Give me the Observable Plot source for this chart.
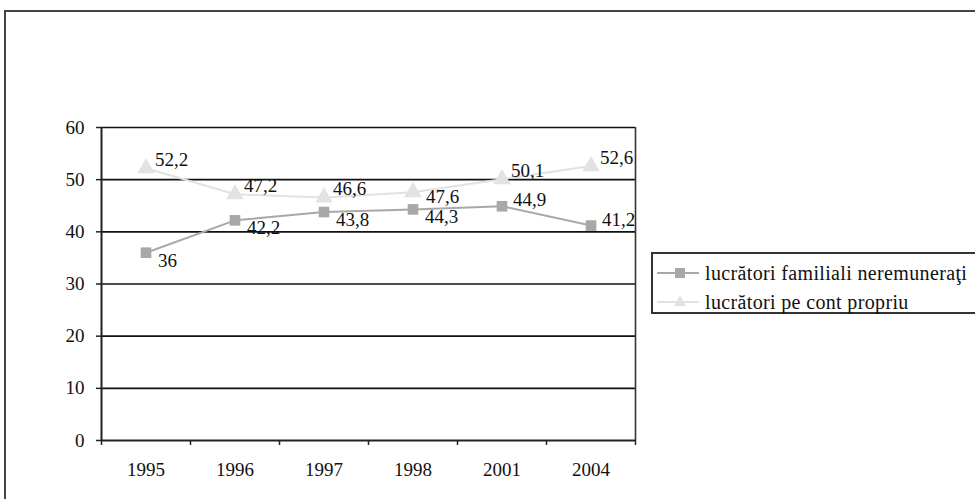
<!DOCTYPE html>
<html>
<head>
<meta charset="utf-8">
<script src="https://cdn.jsdelivr.net/npm/d3@7"></script>
<script src="https://cdn.jsdelivr.net/npm/@observablehq/plot@0.6"></script>
<style>
  html, body { margin: 0; padding: 0; background: #fff; }
  #wrap { position: relative; width: 975px; height: 499px; overflow: hidden; font-family: "Liberation Serif", serif; }
  #frame { position: absolute; left: 4px; top: 10px; width: 990px; height: 520px; border-left: 2px solid #444; border-top: 2px solid #444; box-sizing: border-box; pointer-events: none; }
  #legend { position: absolute; left: 651px; top: 252px; width: 330px; height: 62px; border: 2px solid #333; box-sizing: border-box; background: #fff; font-family: "Liberation Serif", serif; font-size: 20px; letter-spacing: 0.35px; color: #111; }
  .item { position: absolute; left: 2px; display: flex; align-items: center; height: 20px; font-family: "Liberation Serif", serif; white-space: nowrap; }
  .item svg { margin-right: 4px; }
  svg text { font-family: "Liberation Serif", serif; }
</style>
</head>
<body>
<div id="wrap">
  <div id="chart"></div>
  <div id="frame"></div>
  <div id="legend"></div>
</div>
<script>
const years = ["1995", "1996", "1997", "1998", "2001", "2004"];
const familiali = [36, 42.2, 43.8, 44.3, 44.9, 41.2];
const contPropriu = [52.2, 47.2, 46.6, 47.6, 50.1, 52.6];
const seriesNames = ["lucrători familiali neremuneraţi", "lucrători pe cont propriu"];
const yTicks = [0, 10, 20, 30, 40, 50, 60];
// label placement relative to marker (style only)
const famPlace = ["below", "below", "below", "below", "above", "above"];
const contPlace = ["above", "above", "above", "below", "above", "above"];

const serif = "Liberation Serif";
const fmt = v => String(v).replace(".", ",");
const idx = years.map((_, i) => i);
const famData = idx.map(i => ({i, v: familiali[i], place: famPlace[i]}));
const contData = idx.map(i => ({i, v: contPropriu[i], place: contPlace[i]}));

const sqColor = "#a8a8a8";
const triColor = "#e2e2e2";

const chart = Plot.plot({
  width: 975,
  height: 499,
  marginLeft: 101,
  marginRight: 340,
  marginTop: 127,
  marginBottom: 59,
  style: {fontFamily: serif, fontSize: "19px", color: "#111", background: "transparent"},
  x: {type: "linear", domain: [-0.5, years.length - 0.5]},
  y: {domain: [0, 60]},
  marks: [
    Plot.ruleY(yTicks.filter(d => d > 0), {stroke: "#111", strokeWidth: 1.6}),
    Plot.ruleX([years.length - 0.5], {y1: 0, y2: 60, stroke: "#333", strokeWidth: 1.6}),
    Plot.ruleY([0], {stroke: "#222", strokeWidth: 2}),
    Plot.ruleX([-0.5], {y1: 0, y2: 60, stroke: "#222", strokeWidth: 2}),
    Plot.axisY({ticks: yTicks, tickSize: 5, tickPadding: 12, stroke: "#222", strokeWidth: 1.5, fontSize: 19, fontFamily: serif, label: null}),
    Plot.axisX({ticks: d3.range(-0.5, years.length, 1), tickSize: 5, tickFormat: () => "", stroke: "#222", strokeWidth: 1.5, label: null}),
    Plot.axisX({ticks: idx, tickSize: 0, tickPadding: 22, tickFormat: i => years[i], fontSize: 19, fontFamily: serif, label: null}),
    Plot.line(famData, {x: "i", y: "v", stroke: sqColor, strokeWidth: 2}),
    Plot.line(contData, {x: "i", y: "v", stroke: triColor, strokeWidth: 2}),
    Plot.dot(famData, {x: "i", y: "v", symbol: "square", r: 6, fill: sqColor, stroke: null}),
    Plot.dot(contData, {x: "i", y: "v", symbol: "triangle", r: 6.5, fill: triColor, stroke: null}),
    Plot.text(famData.filter(d => d.place === "below"), {x: "i", y: "v", text: d => fmt(d.v), textAnchor: "start", dx: 12, dy: 8, fontSize: 19, fontFamily: serif, fill: "#111"}),
    Plot.text(famData.filter(d => d.place === "above"), {x: "i", y: "v", text: d => fmt(d.v), textAnchor: "start", dx: 11, dy: -6, fontSize: 19, fontFamily: serif, fill: "#111"}),
    Plot.text(contData.filter(d => d.place === "below"), {x: "i", y: "v", text: d => fmt(d.v), textAnchor: "start", dx: 13, dy: 5, fontSize: 19, fontFamily: serif, fill: "#111"}),
    Plot.text(contData.filter(d => d.place === "above"), {x: "i", y: "v", text: d => fmt(d.v), textAnchor: "start", dx: 9, dy: -8, fontSize: 19, fontFamily: serif, fill: "#111"})
  ]
});
document.getElementById("chart").appendChild(chart);

// legend
const legend = document.getElementById("legend");
const symbols = [
  `<rect x="20" y="5" width="10" height="10" fill="${sqColor}"/>`,
  `<path d="M25,3 L31,14 L19,14 Z" fill="${triColor}"/>`
];
const colors = [sqColor, triColor];
seriesNames.forEach((name, k) => {
  const div = document.createElement("div");
  div.className = "item";
  div.style.top = (k === 0 ? 9 : 38) + "px";
  div.innerHTML = `<svg width="46" height="20"><line x1="2" x2="44" y1="10" y2="10" stroke="${colors[k]}" stroke-width="2"/>${symbols[k]}</svg><span>${name}</span>`;
  legend.appendChild(div);
});
</script>
</body>
</html>
